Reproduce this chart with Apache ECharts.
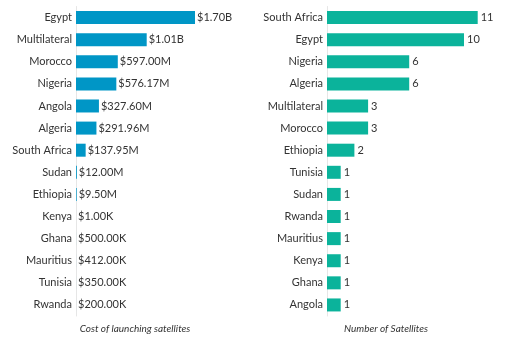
<!DOCTYPE html>
<html><head><meta charset="utf-8">
<script src="https://cdn.jsdelivr.net/npm/echarts@6/dist/echarts.min.js"></script>
<style>html,body{margin:0;padding:0;background:#fff}#c{width:512px;height:341px}</style>
</head><body><div id="c"></div>
<script>
const costCountries = ["Egypt","Multilateral","Morocco","Nigeria","Angola","Algeria","South Africa","Sudan","Ethiopia","Kenya","Ghana","Mauritius","Tunisia","Rwanda"];
const costValues = [1700000000,1010000000,597000000,576170000,327600000,291960000,137950000,12000000,9500000,1000,500000,412000,350000,200000];
const costLabels = ["$1.70B","$1.01B","$597.00M","$576.17M","$327.60M","$291.96M","$137.95M","$12.00M","$9.50M","$1.00K","$500.00K","$412.00K","$350.00K","$200.00K"];
const satCountries = ["South Africa","Egypt","Nigeria","Algeria","Multilateral","Morocco","Ethiopia","Tunisia","Sudan","Rwanda","Mauritius","Kenya","Ghana","Angola"];
const satValues = [11,10,6,6,3,3,2,1,1,1,1,1,1,1];
const titles = ["Cost of launching satellites","Number of Satellites"];

const FONT = "Lato";
const TXT = "#333333";
const chart = echarts.init(document.getElementById('c'));
chart.setOption({
  animation:false,
  textStyle:{fontFamily:FONT},
  title:[
    {text:titles[0], left:130, top:319, textAlign:'center', textStyle:{fontFamily:FONT,fontSize:10,fontStyle:'italic',fontWeight:'normal',color:TXT}},
    {text:titles[1], left:381, top:319, textAlign:'center', textStyle:{fontFamily:FONT,fontSize:10,fontStyle:'italic',fontWeight:'normal',color:TXT}}
  ],
  grid:[
    {left:76, top:6.5, width:140, height:309.5},
    {left:327, top:6.5, width:164.4, height:309.5}
  ],
  xAxis:[
    {gridIndex:0, type:'value', min:0, max:2000000000, show:false},
    {gridIndex:1, type:'value', min:0, max:12, show:false}
  ],
  yAxis:[
    {gridIndex:0, type:'category', data:costCountries, inverse:true,
     axisLine:{show:true,lineStyle:{color:'#e6e6e6'}}, axisTick:{show:false},
     axisLabel:{color:TXT,fontSize:11,fontFamily:FONT,margin:4}},
    {gridIndex:1, type:'category', data:satCountries, inverse:true,
     axisLine:{show:true,lineStyle:{color:'#e6e6e6'}}, axisTick:{show:false},
     axisLabel:{color:TXT,fontSize:11,fontFamily:FONT,margin:4}}
  ],
  series:[
    {type:'bar', xAxisIndex:0, yAxisIndex:0, data:costValues, barWidth:13,
     itemStyle:{color:'#0096C6'},
     label:{show:true, position:'right', distance:2, color:TXT, fontSize:11, fontFamily:FONT,
       formatter:p=>costLabels[p.dataIndex]}},
    {type:'bar', xAxisIndex:1, yAxisIndex:1, data:satValues, barWidth:13,
     itemStyle:{color:'#0BB39B'},
     label:{show:true, position:'right', distance:3, color:TXT, fontSize:11, fontFamily:FONT}}
  ]
});
</script></body></html>
